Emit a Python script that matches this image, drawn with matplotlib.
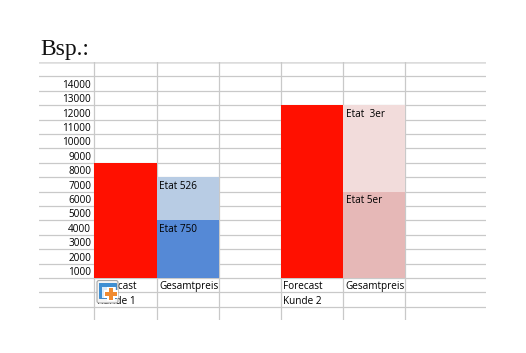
import matplotlib
matplotlib.use('Agg')
import matplotlib.pyplot as plt
from matplotlib.patches import FancyBboxPatch, Rectangle

W, H = 526, 353

# values
row_labels = [1000, 2000, 3000, 4000, 5000, 6000, 7000, 8000, 9000, 10000, 11000, 12000, 13000, 14000]
forecast = [8000, 12000]
lower = [4000, 6000]
upper = [3000, 6000]
lower_colors = ['#5589d6', '#e6b8b7']
upper_colors = ['#b8cce4', '#f2dcdb']
lower_names = ['Etat 750', 'Etat 5er']
upper_names = ['Etat 526', 'Etat  3er']
col_forecast = [0, 3]
col_total = [1, 4]
kunden = ['Kunde 1', 'Kunde 2']

GRID = '#c9c9c9'
TXT = '#000000'
FS = 7.2
plt.rcParams['font.family'] = 'Open Sans'

fig = plt.figure(figsize=(W/100, H/100), dpi=100)
fig.patch.set_facecolor('white')

# axes box in pixels of the picture
x0, x1 = 39, 486
y_top, y_bot = 62, 320
ax = fig.add_axes([x0/W, 1-y_bot/H, (x1-x0)/W, (y_bot-y_top)/H])
col_w = 62.2
row_h = 14.4
ax.set_xlim((x0-94.3)/col_w, (x1-94.3)/col_w)
ax.set_ylim((278-y_bot)/row_h*1000, (278-y_top)/row_h*1000)
for s in ax.spines.values():
    s.set_visible(False)
ax.tick_params(left=False, bottom=False, labelleft=False, labelbottom=False)

# sheet lines
for v in range(-2000, 15000, 1000):
    ax.axhline(v, color=GRID, lw=0.9, zorder=1)
ax.axhline(15000, color='#dcdcdc', lw=1.8, zorder=1)
for c in range(6):
    ax.axvline(c, color=GRID, lw=0.9, zorder=1)

# bars
ax.bar(col_forecast, forecast, width=1, align='edge', color='#ff1000', zorder=2)
ax.bar(col_total, lower, width=1, align='edge', color=lower_colors, zorder=2)
ax.bar(col_total, upper, width=1, bottom=lower, align='edge', color=upper_colors, zorder=2)

# row labels sit in the cell below their line
dy = 620
for v in row_labels:
    ax.text(-0.05, v-dy, str(v), ha='right', va='center', fontsize=FS, color=TXT, zorder=3)

for i in range(2):
    c = col_total[i]
    ax.text(c+0.04, lower[i]-dy, lower_names[i], ha='left', va='center', fontsize=FS, color=TXT, zorder=3)
    ax.text(c+0.04, lower[i]+upper[i]-dy, upper_names[i], ha='left', va='center', fontsize=FS, color=TXT, zorder=3)
    ax.text(c+0.04, -dy, 'Gesamtpreis', ha='left', va='center', fontsize=FS, color=TXT, zorder=3)
    ax.text(col_forecast[i]+0.04, -dy, 'Forecast', ha='left', va='center', fontsize=FS, color=TXT, zorder=3)
    ax.text(col_forecast[i]+0.04, -1000-dy, kunden[i], ha='left', va='center', fontsize=FS, color=TXT, zorder=3)

fig.text(40/W, 1-55/H, 'Bsp.:', family='Liberation Serif', fontsize=17, color='#111111', ha='left', va='baseline')

# paste options icon over the first label
ia = fig.add_axes([96/W, 1-304/H, 24/W, 24/H])
ia.set_xlim(0, 24)
ia.set_ylim(24, 0)
ia.axis('off')
ia.add_patch(FancyBboxPatch((1, 0.5), 21, 22.5, boxstyle='round,pad=0,rounding_size=2',
                            fc='#f4f4f4', ec='#a8a8a8', lw=0.8))
ia.add_patch(Rectangle((2.5, 3), 17.5, 15, fc='#dcebf8', ec='#3f86c6', lw=0.7))
ia.add_patch(Rectangle((2.5, 3), 17.5, 3.5, fc='#3f8fd2', ec='none'))
ia.add_patch(Rectangle((2.5, 3), 3.5, 15, fc='#3f8fd2', ec='none'))
ia.add_patch(Rectangle((11, 7), 8, 14, fc='white', ec='none'))
ia.add_patch(Rectangle((8, 10), 14, 8, fc='white', ec='none'))
ia.add_patch(Rectangle((12.5, 8), 4.5, 12, fc='#f08a30', ec='none'))
ia.add_patch(Rectangle((9, 11.8), 12, 4.5, fc='#f08a30', ec='none'))

fig.savefig('out.png', dpi=100)
